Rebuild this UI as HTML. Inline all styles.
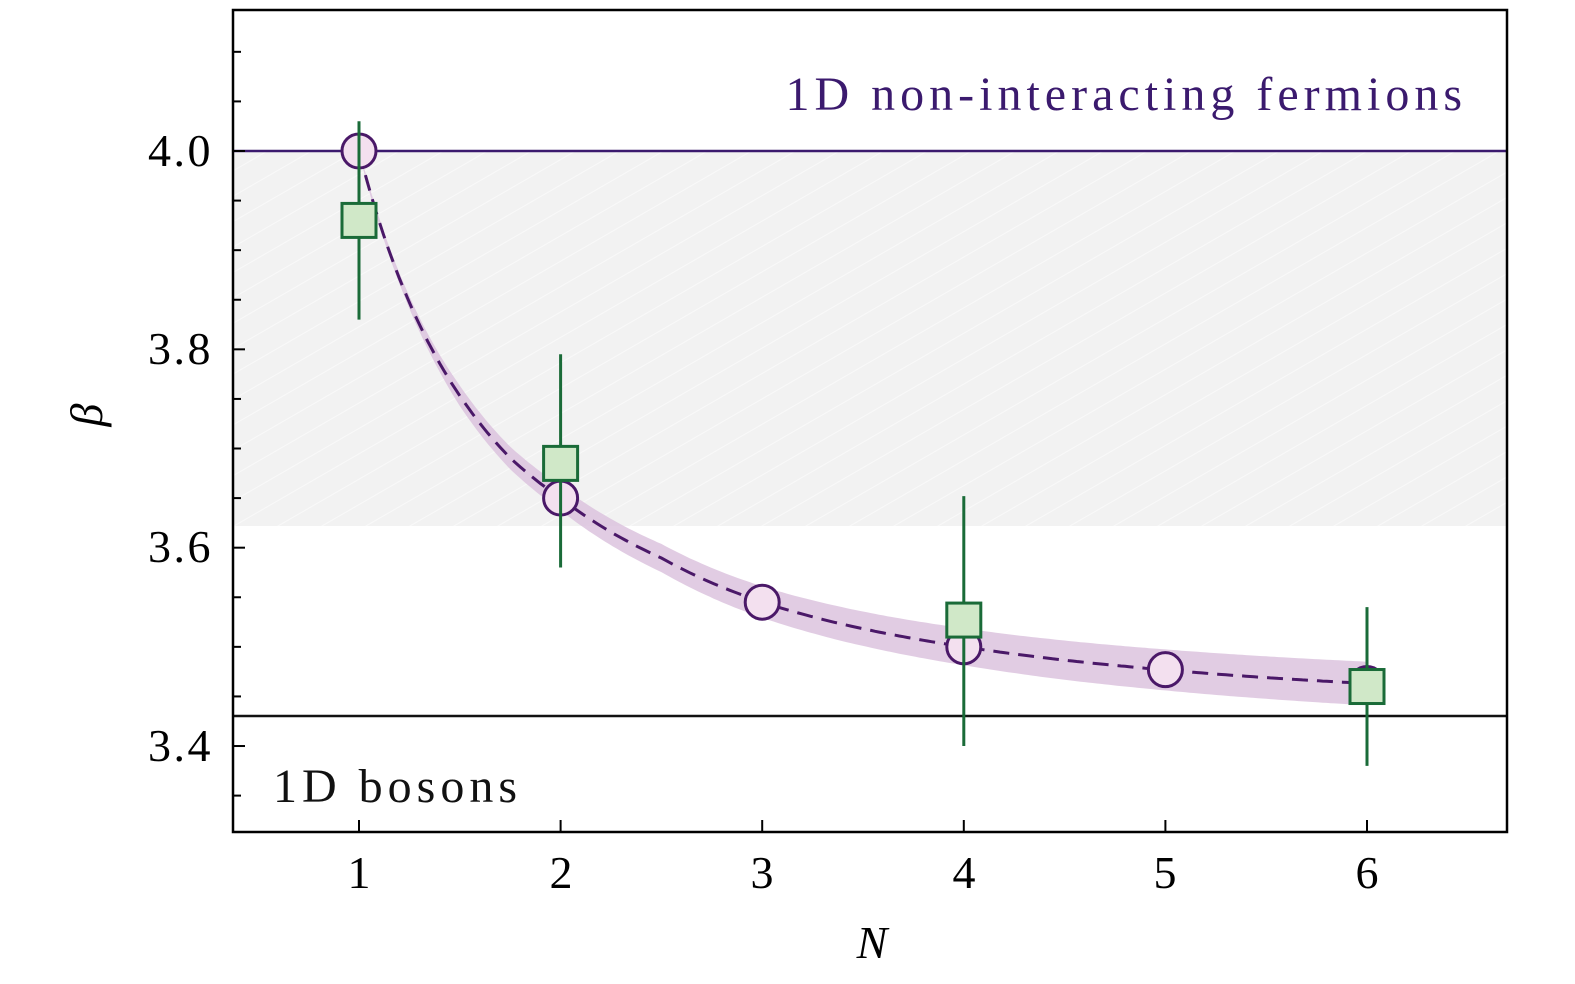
<!DOCTYPE html>
<html><head><meta charset="utf-8">
<style>
html,body{margin:0;padding:0;background:#fff;}
svg{display:block;}
text{font-family:"Liberation Serif","DejaVu Serif",serif;}
</style></head>
<body>
<svg id="s" width="1575" height="984" viewBox="0 0 1575 984" xmlns="http://www.w3.org/2000/svg">
<defs>
<pattern id="h" patternUnits="userSpaceOnUse" width="40" height="22" patternTransform="rotate(-30)">
<rect width="40" height="22" fill="#f2f2f2"/>
<line x1="0" y1="0" x2="40" y2="0" stroke="#f9f9f9" stroke-width="2"/>
</pattern>
</defs>
<rect x="234" y="151" width="1272" height="375" fill="url(#h)"/>
<line x1="234" y1="151" x2="1506" y2="151" stroke="#3b1a6e" stroke-width="2.5"/>
<line x1="234" y1="716" x2="1506" y2="716" stroke="#111" stroke-width="2.5"/>
<path id="band" fill="#d9bfdc" opacity="0.8"/>
<path id="curve" fill="none" stroke="#4a1868" stroke-width="3" stroke-dasharray="16,9"/>
<g id="marks"></g>
<rect x="233" y="10" width="1274" height="822" fill="none" stroke="#000" stroke-width="2.5"/>
<g id="ticks" stroke="#000" stroke-width="2"></g>
<g font-size="46" text-anchor="end" fill="#000" letter-spacing="2.5">
<text x="213" y="166">4.0</text>
<text x="213" y="364">3.8</text>
<text x="213" y="562">3.6</text>
<text x="213" y="761">3.4</text>
</g>
<g font-size="46" text-anchor="middle" fill="#000">
<text x="359" y="888">1</text><text x="561" y="888">2</text><text x="762" y="888">3</text>
<text x="964" y="888">4</text><text x="1165" y="888">5</text><text x="1367" y="888">6</text>
</g>
<text x="872" y="958" font-size="46" font-style="italic" text-anchor="middle">N</text>
<text x="0" y="0" font-size="46" font-style="italic" text-anchor="middle" transform="translate(102,415) rotate(-90)">β</text>
<text x="1467" y="110" font-size="48" text-anchor="end" fill="#3b1a6e" letter-spacing="5">1D non-interacting fermions</text>
<text x="273" y="802" font-size="48" fill="#111" letter-spacing="5">1D bosons</text>
</svg>
<script>
var X=function(n){return 359+(n-1)*201.6;};
var Y=function(v){return 151+(4-v)*991.7;};
var g=[[1,1],[1.25,0.732],[1.5,0.567],[1.75,0.457],[2,0.386],[2.5,0.28],[3,0.202],[4,0.123],[5,0.082],[6,0.058]];
function gv(n){for(var i=0;i<g.length-1;i++){if(n<=g[i+1][0]){var a=g[i],b=g[i+1];var t=(Math.log(n)-Math.log(a[0]))/(Math.log(b[0])-Math.log(a[0]));return Math.exp(Math.log(a[1])+t*(Math.log(b[1])-Math.log(a[1])));}}return g[g.length-1][1];}
var pts=[],up=[],dn=[];
for(var n=1;n<=6.0001;n+=0.02){var y=Y(3.43+0.57*gv(n));var x=X(n);pts.push(x.toFixed(1)+","+y.toFixed(1));var hw=2+4.6*(n-1)*(1-0.08*(n-1))+ (n>1.5?6:12*(n-1));hw=Math.min(hw,25);up.push(x.toFixed(1)+","+(y-hw).toFixed(1));dn.unshift(x.toFixed(1)+","+(y+hw).toFixed(1));}
document.getElementById("curve").setAttribute("d","M"+pts.join(" L"));
document.getElementById("band").setAttribute("d","M"+up.join(" L")+" L"+dn.join(" L")+"Z");
var ns="http://www.w3.org/2000/svg",m=document.getElementById("marks");
function el(t,a){var e=document.createElementNS(ns,t);for(var k in a)e.setAttribute(k,a[k]);m.appendChild(e);}
[[1,4.0],[2,3.65],[3,3.545],[4,3.5],[5,3.477],[6,3.463]].forEach(function(p){el("circle",{cx:X(p[0]),cy:Y(p[1]),r:17,fill:"#f3e0ef",stroke:"#4a1868","stroke-width":3});});
[[1,3.93,3.83,4.03],[2,3.685,3.58,3.795],[4,3.527,3.40,3.652],[6,3.46,3.38,3.54]].forEach(function(p){var x=X(p[0]);el("line",{x1:x,x2:x,y1:Y(p[3]),y2:Y(p[2]),stroke:"#1a6b38","stroke-width":3});el("rect",{x:x-17,y:Y(p[1])-17,width:34,height:34,fill:"#d0e8c8",stroke:"#1a6b38","stroke-width":3});});
var tk=document.getElementById("ticks");
for(var v=3.35;v<4.16;v+=0.05){var y=Y(v);if(y<12||y>830)continue;var big=Math.abs((v*10)-Math.round(v*10))<0.01&&Math.round(v*10)%2==0;var e=document.createElementNS(ns,"line");e.setAttribute("x1",233);e.setAttribute("x2",233+(big?12:8));e.setAttribute("y1",y);e.setAttribute("y2",y);tk.appendChild(e);}
for(var n=1;n<=6;n++){var e=document.createElementNS(ns,"line");e.setAttribute("x1",X(n));e.setAttribute("x2",X(n));e.setAttribute("y1",832);e.setAttribute("y2",820);tk.appendChild(e);}
</script>
</body></html>
